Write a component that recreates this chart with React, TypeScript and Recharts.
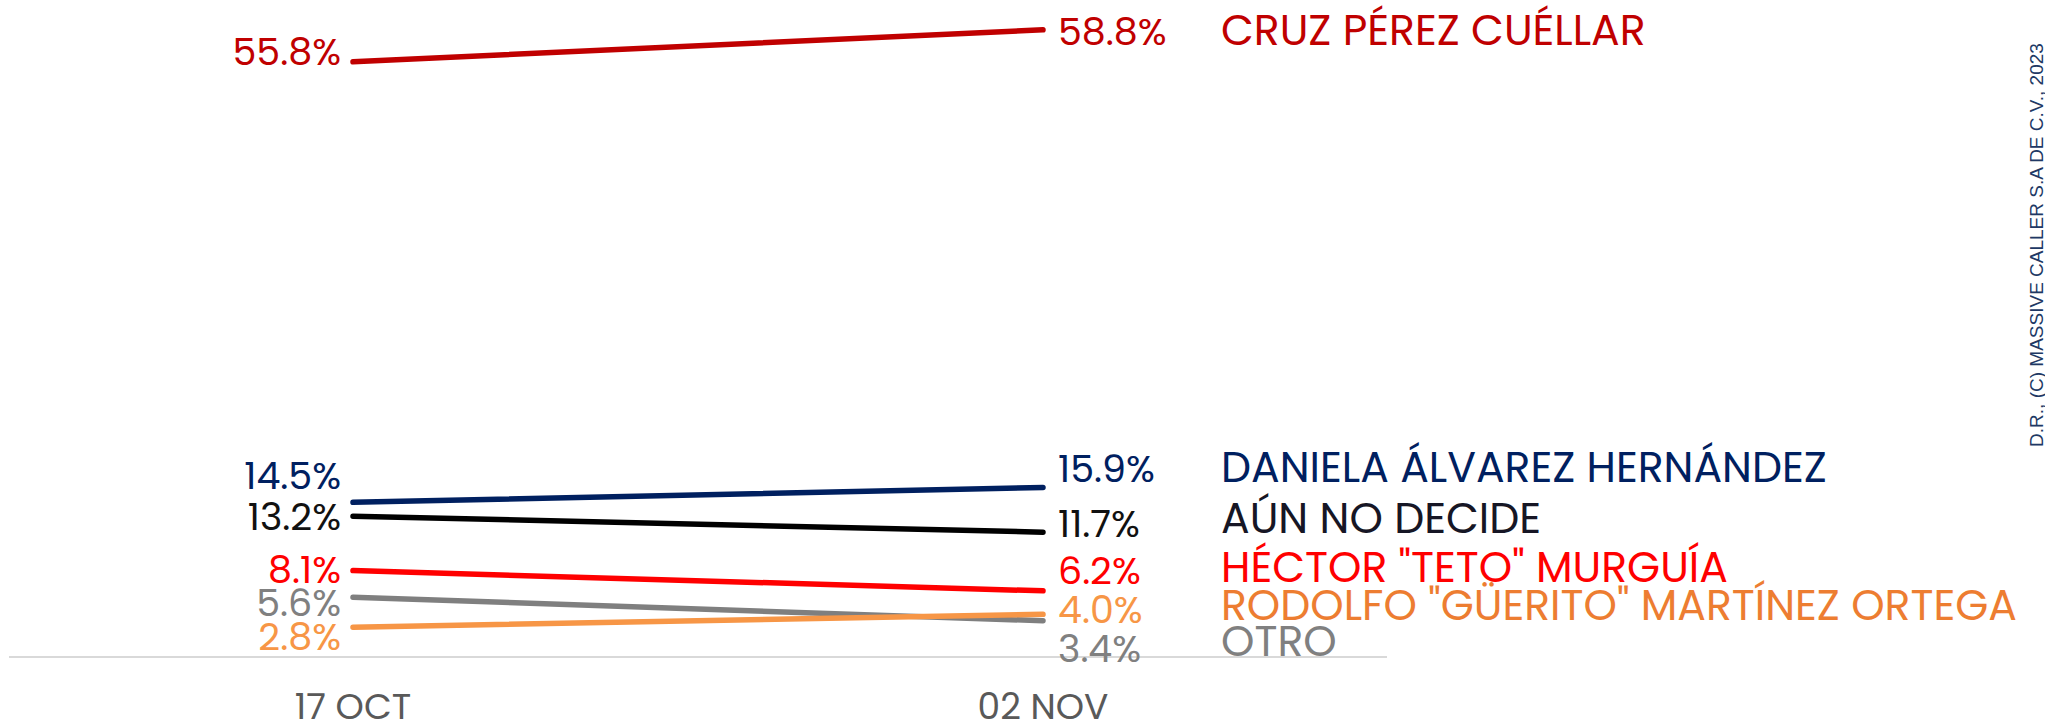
import React from "react";
import { LineChart, Line, XAxis, YAxis, LabelList, Customized } from "recharts";

const dates = ["17 OCT", "02 NOV"];
const cruz = [55.8, 58.8];
const daniela = [14.5, 15.9];
const aun = [13.2, 11.7];
const hector = [8.1, 6.2];
const rodolfo = [2.8, 4.0];
const otro = [5.6, 3.4];

const seriesNames = {
  cruz: "CRUZ PÉREZ CUÉLLAR",
  daniela: "DANIELA ÁLVAREZ HERNÁNDEZ",
  aun: "AÚN NO DECIDE",
  hector: 'HÉCTOR "TETO" MURGUÍA',
  rodolfo: 'RODOLFO "GÜERITO" MARTÍNEZ ORTEGA',
  otro: "OTRO",
};

const watermark = "D.R., (C) MASSIVE CALLER S.A DE C.V., 2023";

const seriesValues: Record<string, number[]> = { cruz, daniela, aun, hector, rodolfo, otro };

// style / label-placement config (not data)
const styles: Record<string, { line: string; value: string; name: string; leftDy: number; rightDy: number; nameDy: number }> = {
  cruz: { line: "#C00000", value: "#C00000", name: "#C00000", leftDy: -10, rightDy: 2, nameDy: 0 },
  daniela: { line: "#002060", value: "#002060", name: "#002060", leftDy: -27, rightDy: -19, nameDy: -20 },
  aun: { line: "#000000", value: "#111111", name: "#161625", leftDy: 0, rightDy: -9, nameDy: -14 },
  hector: { line: "#FF0000", value: "#FF0000", name: "#FF0000", leftDy: -1, rightDy: -20, nameDy: -24 },
  otro: { line: "#7F7F7F", value: "#808080", name: "#808080", leftDy: 5, rightDy: 28, nameDy: 20 },
  rodolfo: { line: "#F79646", value: "#F79646", name: "#ED7D31", leftDy: 9, rightDy: -5, nameDy: -9 },
};

const order = ["cruz", "daniela", "aun", "hector", "otro", "rodolfo"];

const data = dates.map((d, i) => {
  const row: Record<string, string | number> = { date: d };
  order.forEach((k) => {
    row[k] = seriesValues[k][i];
  });
  return row;
});

const FONT = "Poppins, 'Open Sans', sans-serif";

const makeLabel = (key: string) => (props: any) => {
  const { x, y, index, value } = props;
  const s = styles[key];
  const txt = `${Number(value).toFixed(1)}%`;
  if (index === 0) {
    return (
      <text x={x - 12} y={y + s.leftDy} textAnchor="end" dominantBaseline="central" fill={s.value} fontFamily={FONT} fontSize={38}>
        {txt}
      </text>
    );
  }
  return (
    <g>
      <text x={x + 15} y={y + s.rightDy} textAnchor="start" dominantBaseline="central" fill={s.value} fontFamily={FONT} fontSize={38}>
        {txt}
      </text>
      <text x={x + 178} y={y + s.nameDy} textAnchor="start" dominantBaseline="central" fill={s.name} fontFamily={FONT} fontSize={42.5}>
        {(seriesNames as any)[key]}
      </text>
    </g>
  );
};

const Tick = (props: any) => {
  const { x, y, payload } = props;
  return (
    <text x={x} y={y} dy={41} textAnchor="middle" dominantBaseline="central" fill="#595959" fontFamily={FONT} fontSize={36}>
      {payload.value}
    </text>
  );
};

const Watermark = () => (
  <text
    x={2036}
    y={245}
    transform="rotate(-90 2036 245)"
    textAnchor="middle"
    dominantBaseline="central"
    fill="#203864"
    fontFamily="'Liberation Sans', Arial, sans-serif"
    fontSize={19}
  >
    {watermark}
  </text>
);

export default function App() {
  return (
    <div style={{ position: "fixed", left: 0, top: 0, width: 2045, height: 728, background: "#fff" }}>
      <LineChart width={2045} height={728} data={data} margin={{ top: 17, right: 658, left: 9, bottom: 0 }}>
        <YAxis hide domain={[0, 60]} />
        <XAxis
          dataKey="date"
          height={71}
          padding={{ left: 344, right: 344 }}
          axisLine={{ stroke: "#D9D9D9", strokeWidth: 2 }}
          tickLine={false}
          tick={<Tick />}
          interval={0}
        />
        {order.map((k) => (
          <Line
            key={k}
            dataKey={k}
            stroke={styles[k].line}
            strokeWidth={5.5}
            strokeLinecap="round"
            dot={false}
            activeDot={false}
            isAnimationActive={false}
          >
            <LabelList dataKey={k} content={makeLabel(k)} />
          </Line>
        ))}
        <Customized component={Watermark} />
      </LineChart>
    </div>
  );
}
